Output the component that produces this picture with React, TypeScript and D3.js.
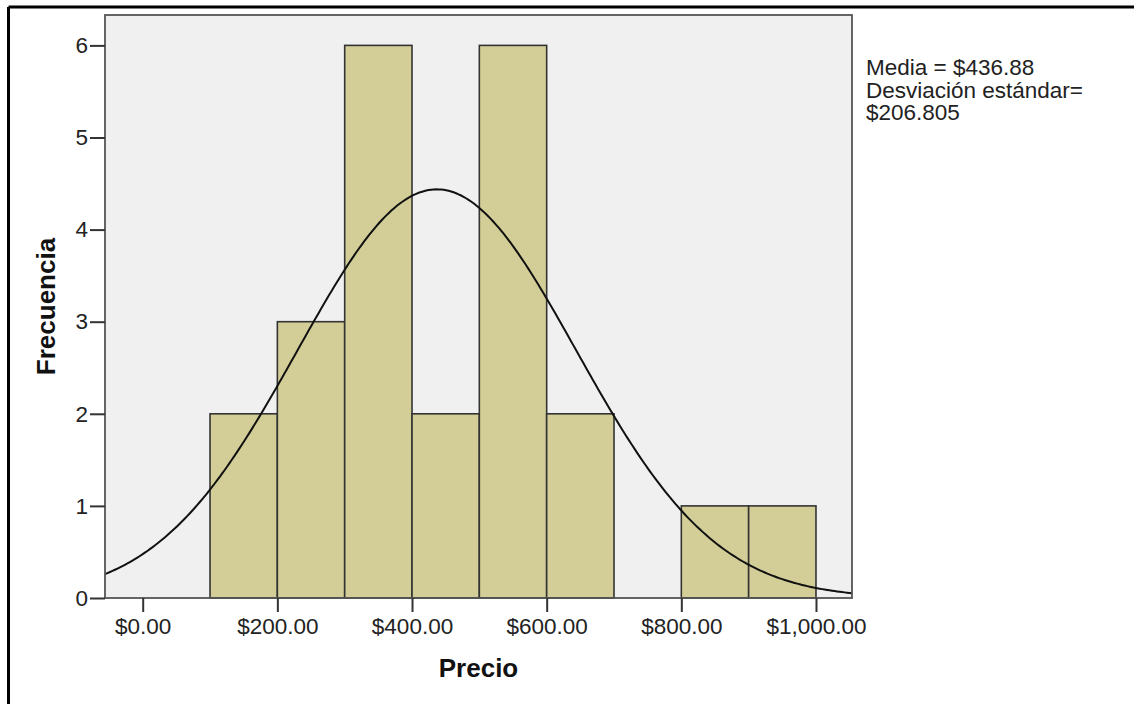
import React, { useEffect, useRef } from "react";
import * as d3 from "d3";

// Histogram bins (lower edge, count)
const binStarts = [100, 200, 300, 400, 500, 600, 700, 800, 900];
const binCounts = [2, 3, 6, 2, 6, 2, 0, 1, 1];
const binWidth = 100;

const xTicks = [0, 200, 400, 600, 800, 1000];
const yTicks = [0, 1, 2, 3, 4, 5, 6];

const meanValue = 436.88;
const sdValue = 206.805;
const legendLines = ["Media = $436.88", "Desviación estándar=", "$206.805"];

const FONT = "'Liberation Sans', Arial, sans-serif";

export default function App() {
  const svgRef = useRef<SVGSVGElement>(null);

  useEffect(() => {
    if (!svgRef.current) return;
    const root = d3.select(svgRef.current);
    root.selectAll("*").remove();

    const W = 1134, H = 704;
    const plot = { left: 105, top: 15, right: 852, bottom: 598 };

    const xScale = d3.scaleLinear().domain([-56, 1053.5]).range([plot.left, plot.right]);
    const yScale = d3.scaleLinear().domain([0, 6.33]).range([plot.bottom, plot.top]);

    // outer frame (top + left only)
    root.append("line").attr("x1", 8.5).attr("x2", W).attr("y1", 7).attr("y2", 7)
      .attr("stroke", "#000").attr("stroke-width", 3);
    root.append("line").attr("x1", 8.5).attr("x2", 8.5).attr("y1", 7).attr("y2", H)
      .attr("stroke", "#000").attr("stroke-width", 3);

    // plot background
    root.append("rect")
      .attr("x", plot.left).attr("y", plot.top)
      .attr("width", plot.right - plot.left).attr("height", plot.bottom - plot.top)
      .attr("fill", "#F0F0F0");

    root.append("defs").append("clipPath").attr("id", "plotClip")
      .append("rect")
      .attr("x", plot.left).attr("y", plot.top)
      .attr("width", plot.right - plot.left).attr("height", plot.bottom - plot.top);

    // bars
    const bins = binStarts.map((s, i) => ({ x0: s, x1: s + binWidth, count: binCounts[i] }))
      .filter(b => b.count > 0);
    root.append("g")
      .selectAll("rect")
      .data(bins)
      .enter()
      .append("rect")
      .attr("x", (d: any) => xScale(d.x0))
      .attr("y", (d: any) => yScale(d.count))
      .attr("width", (d: any) => xScale(d.x1) - xScale(d.x0))
      .attr("height", (d: any) => yScale(0) - yScale(d.count))
      .attr("fill", "#D3CE97")
      .attr("stroke", "#333")
      .attr("stroke-width", 1.6);

    // fitted normal curve
    const n = d3.sum(binCounts);
    const [d0, d1] = xScale.domain();
    const curvePts = d3.range(0, 301).map(i => {
      const x = d0 + (d1 - d0) * i / 300;
      const z = (x - meanValue) / sdValue;
      return [x, n * binWidth * Math.exp(-0.5 * z * z) / (sdValue * Math.sqrt(2 * Math.PI))];
    });
    root.append("path")
      .datum(curvePts)
      .attr("clip-path", "url(#plotClip)")
      .attr("fill", "none")
      .attr("stroke", "#111")
      .attr("stroke-width", 2)
      .attr("d", d3.line().x((d: any) => xScale(d[0])).y((d: any) => yScale(d[1])) as any);

    // plot border
    root.append("rect")
      .attr("x", plot.left).attr("y", plot.top)
      .attr("width", plot.right - plot.left).attr("height", plot.bottom - plot.top)
      .attr("fill", "none").attr("stroke", "#555").attr("stroke-width", 1.8);

    // axes
    const xAxis = d3.axisBottom(xScale).tickValues(xTicks).tickSize(14).tickSizeOuter(0)
      .tickPadding(6).tickFormat((d: any) => "$" + d3.format(",.2f")(d));
    const yAxis = d3.axisLeft(yScale).tickValues(yTicks).tickSize(15).tickSizeOuter(0)
      .tickPadding(2).tickFormat(d3.format("d") as any);

    const gx = root.append("g").attr("transform", `translate(0,${plot.bottom})`).call(xAxis);
    const gy = root.append("g").attr("transform", `translate(${plot.left},0)`).call(yAxis);
    [gx, gy].forEach(g => {
      g.select(".domain").remove();
      g.selectAll(".tick line").attr("stroke", "#333").attr("stroke-width", 2);
      g.selectAll(".tick text")
        .attr("fill", "#222")
        .style("font-family", FONT)
        .style("font-size", "22.5px");
    });

    // axis titles
    root.append("text")
      .attr("x", (plot.left + plot.right) / 2)
      .attr("y", 677)
      .attr("text-anchor", "middle")
      .style("font-family", FONT).style("font-size", "26px").style("font-weight", "bold")
      .attr("fill", "#111")
      .text("Precio");
    root.append("text")
      .attr("transform", `translate(55,${(plot.top + plot.bottom) / 2}) rotate(-90)`)
      .attr("text-anchor", "middle")
      .style("font-family", FONT).style("font-size", "26px").style("font-weight", "bold")
      .attr("fill", "#111")
      .text("Frecuencia");

    // stats legend
    root.append("g")
      .selectAll("text")
      .data(legendLines)
      .enter()
      .append("text")
      .attr("x", 866)
      .attr("y", (_d: any, i: number) => 75 + i * 22.5)
      .style("font-family", FONT).style("font-size", "22.5px")
      .attr("fill", "#222")
      .text((d: any) => d);
  }, []);

  return (
    <svg
      ref={svgRef}
      width={1134}
      height={704}
      style={{ position: "absolute", left: 0, top: 0, background: "#fff" }}
    />
  );
}
